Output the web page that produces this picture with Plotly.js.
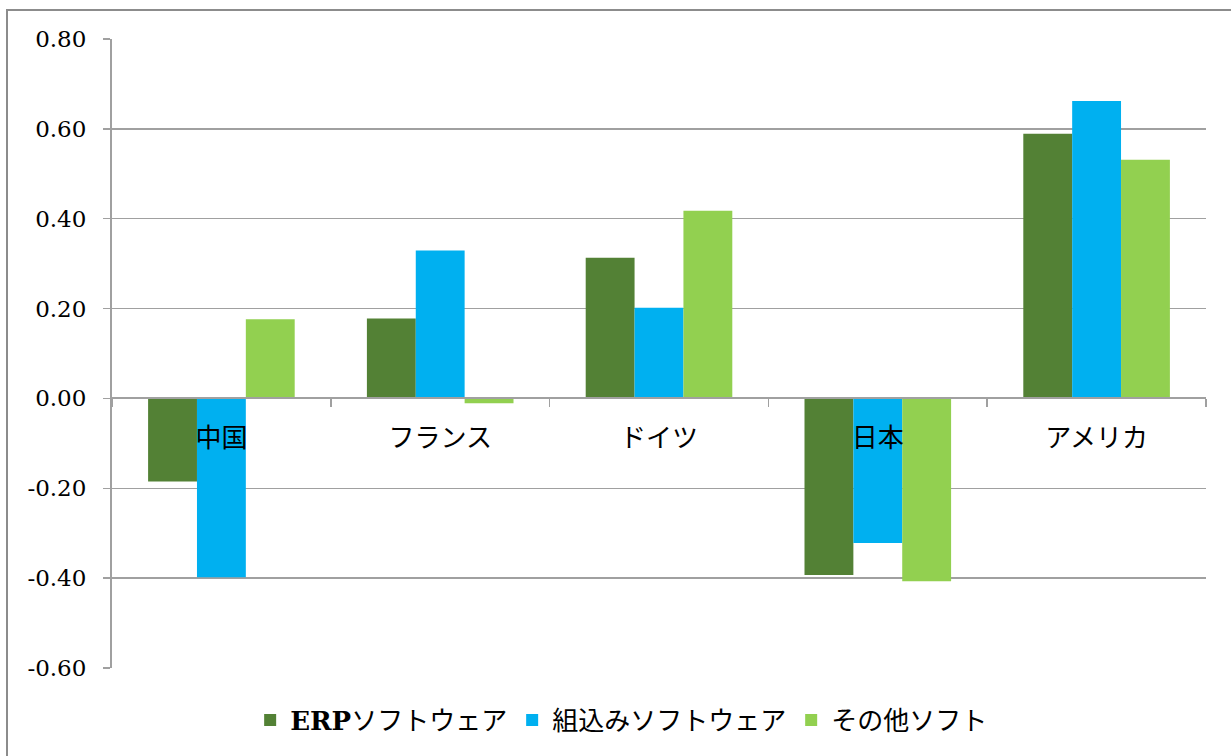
<!DOCTYPE html>
<html>
<head>
<meta charset="utf-8">
<script src="https://cdn.plot.ly/plotly-3.0.1.min.js"></script>
<style>
html,body{margin:0;padding:0;background:#fff;}
#wrap{position:relative;width:1231px;height:756px;overflow:hidden;}
#chart{position:absolute;left:0;top:0;width:1231px;height:756px;}
#frame{position:absolute;left:6px;top:9px;width:1300px;height:800px;border-left:2px solid #8c8c8c;border-top:2px solid #8c8c8c;pointer-events:none;z-index:5;}
</style>
</head>
<body>
<div id="wrap"><div id="chart"></div><div id="frame"></div></div>
<script>
const categories = ["中国", "フランス", "ドイツ", "日本", "アメリカ"];
const seriesNames = ["<b>ERP</b>ソフトウェア", "組込みソフトウェア", "その他ソフト"];
const erpValues = [-0.185, 0.178, 0.313, -0.393, 0.589];
const embeddedValues = [-0.398, 0.329, 0.202, -0.322, 0.662];
const otherValues = [0.176, -0.011, 0.418, -0.407, 0.531];
const yTickValues = [-0.6, -0.4, -0.2, 0, 0.2, 0.4, 0.6, 0.8];
const yTickLabels = ["-0.60", "-0.40", "-0.20", "0.00", "0.20", "0.40", "0.60", "0.80"];
const colors = ["#538135", "#00B0F0", "#92D050"];

const serifFont = "'DejaVu Serif', 'Noto Sans CJK JP', serif";
const jpFont = "'Noto Sans CJK JP', sans-serif";

const allValues = [erpValues, embeddedValues, otherValues];
const traces = allValues.map((vals, i) => ({
  type: 'bar',
  x: categories,
  y: vals,
  name: seriesNames[i],
  marker: {color: colors[i], line: {width: 0}},
  hoverinfo: 'x+y'
}));

const yMin = -0.6, yMax = 0.8;
const layout = {
  width: 1231, height: 756,
  margin: {l: 112, r: 25, t: 39, b: 88},
  paper_bgcolor: '#ffffff',
  plot_bgcolor: '#ffffff',
  barmode: 'group',
  bargap: 0.33,
  bargroupgap: 0,
  showlegend: true,
  legend: {
    orientation: 'h',
    xref: 'container', yref: 'container',
    x: 0.505, xanchor: 'center',
    y: 1 - 720/756, yanchor: 'middle',
    font: {family: serifFont, size: 26, color: '#000'},
    itemwidth: 30,
    traceorder: 'normal'
  },
  xaxis: {
    anchor: 'free',
    position: (0 - yMin) / (yMax - yMin),
    showline: true, linecolor: '#a0a0a0', linewidth: 2,
    ticks: 'outside', tickson: 'boundaries', ticklen: 8, tickcolor: '#a0a0a0', tickwidth: 1.5,
    showgrid: false,
    tickfont: {family: jpFont, size: 26, color: '#000'},
    ticklabelstandoff: 16,
    fixedrange: true
  },
  yaxis: {
    range: [yMin, yMax],
    tickvals: yTickValues,
    ticktext: yTickLabels,
    showline: true, linecolor: '#a0a0a0', linewidth: 2,
    ticks: 'outside', ticklen: 7, tickcolor: '#a0a0a0', tickwidth: 1.5,
    showgrid: true, gridcolor: '#a0a0a0', gridwidth: 1.5,
    zeroline: false,
    tickfont: {family: serifFont, size: 23, color: '#000'},
    ticklabelstandoff: 12,
    fixedrange: true
  }
};

Plotly.newPlot('chart', traces, layout, {displayModeBar: false, staticPlot: true});
</script>
</body>
</html>
